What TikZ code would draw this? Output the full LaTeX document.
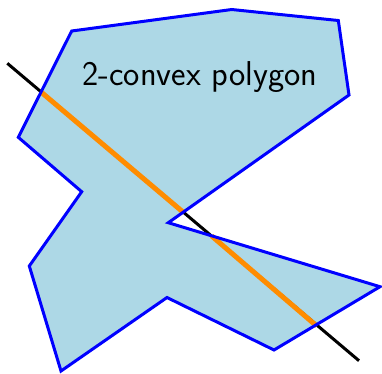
\documentclass[tikz,border=0pt]{standalone}
\definecolor{polyfill}{RGB}{173,216,230}
\definecolor{polyedge}{RGB}{0,0,255}
\definecolor{cutline}{RGB}{255,140,0}
\tikzset{
  polyshape/.style={draw=polyedge, line width=3pt, line join=miter},
  secant/.style={draw=black, line width=3pt},
  inside/.style={draw=cutline, line width=5pt},
  titletext/.style={font=\sffamily\fontsize{34.5}{40}\selectfont, text=black, inner sep=0pt, anchor=base}
}
\begin{document}
\begin{tikzpicture}[x=1pt,y=-1pt]
\useasboundingbox (0,0) rectangle (382,373);
\coordinate (v1) at (71.7,31);
\coordinate (v2) at (231.7,9.5);
\coordinate (v3) at (338.3,20.5);
\coordinate (v4) at (349,95);
\coordinate (v5) at (168.3,222.7);
\coordinate (v6) at (380,286.7);
\coordinate (v7) at (274,350);
\coordinate (v8) at (167,297.5);
\coordinate (v9) at (61,371);
\coordinate (v10) at (29.3,266);
\coordinate (v11) at (81.7,191.7);
\coordinate (v12) at (18.3,137.3);
\coordinate (s) at (7.3,63.3);
\coordinate (e) at (359,360.7);
\coordinate (i1) at (40.7,91.7);
\coordinate (i2) at (183.3,212.3);
\coordinate (i3) at (211.7,236);
\coordinate (i4) at (316.7,326);
\fill[polyfill] (v1) -- (v2) -- (v3) -- (v4) -- (v5) -- (v6) -- (v7) -- (v8) -- (v9) -- (v10) -- (v11) -- (v12) -- cycle;
\draw[secant] (s) -- (e);
\draw[inside] (i1) -- (i2);
\draw[inside] (i3) -- (i4);
\draw[polyshape] (v1) -- (v2) -- (v3) -- (v4) -- (v5) -- (v6) -- (v7) -- (v8) -- (v9) -- (v10) -- (v11) -- (v12) -- cycle;
\node[titletext] (title) at (200,85) {2-convex polygon};
\end{tikzpicture}
\end{document}
